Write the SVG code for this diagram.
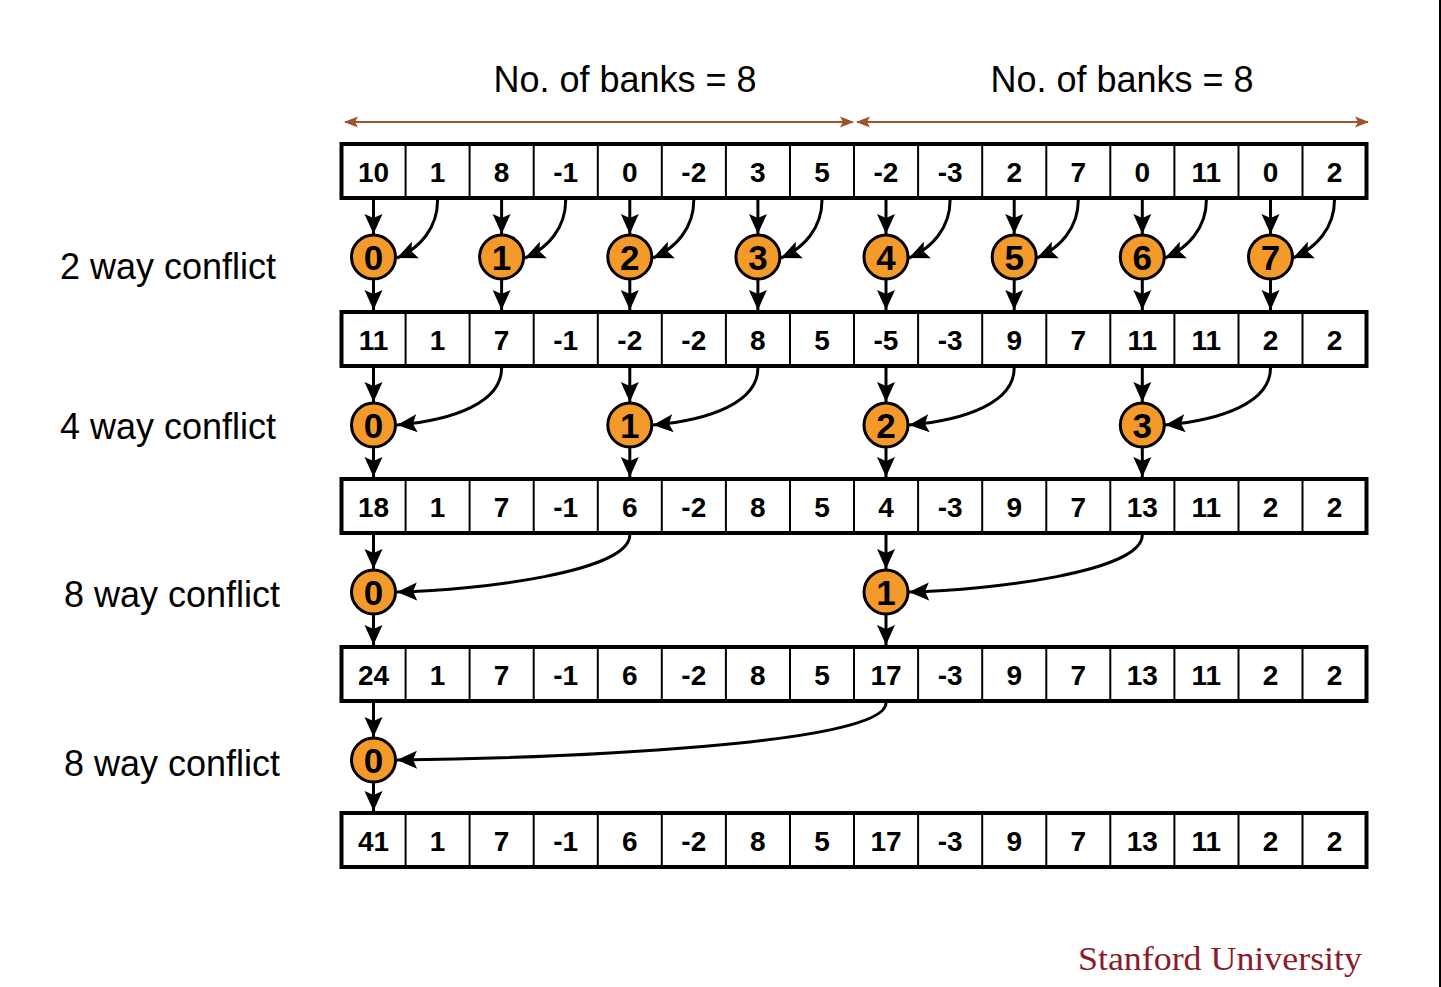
<svg xmlns="http://www.w3.org/2000/svg" width="1441" height="987" viewBox="0 0 1441 987">
<style>
.lbl{font-family:"Liberation Sans",Arial,sans-serif;font-size:36px;fill:#000}
.cell{font-family:"Liberation Sans",Arial,sans-serif;font-size:28px;font-weight:bold;fill:#000;text-anchor:middle}
.cnum{font-family:"Liberation Sans",Arial,sans-serif;font-size:35px;font-weight:bold;fill:#000;text-anchor:middle}
.outer{fill:#fff;stroke:#000;stroke-width:4}
.div{stroke:#000;stroke-width:2}
.node{fill:#F39A2B;stroke:#000;stroke-width:3}
.arr{fill:none;stroke:#000;stroke-width:3;marker-end:url(#ah)}
.brn{stroke:#A0502D;stroke-width:2.2;fill:none}
</style>
<defs>
<marker id="ah" markerUnits="userSpaceOnUse" markerWidth="22" markerHeight="22" viewBox="0 0 22 22" refX="20" refY="11" orient="auto">
<path d="M0,2 L20,11 L0,20 L4,11 Z" fill="#000"/>
</marker>
<marker id="bh" markerUnits="userSpaceOnUse" markerWidth="14" markerHeight="12" viewBox="0 0 14 12" refX="13" refY="6" orient="auto">
<path d="M0,0.5 L14,6 L0,11.5 L3,6 Z" fill="#A0502D"/>
</marker>
</defs>
<rect x="0" y="0" width="1441" height="987" fill="#fff"/>
<rect x="1439" y="0" width="2" height="987" fill="#000"/>

<g id="header">
<text class="lbl" x="625" y="92" text-anchor="middle">No. of banks = 8</text>
<text class="lbl" x="1122" y="92" text-anchor="middle">No. of banks = 8</text>
<line class="brn" x1="355" y1="122" x2="853" y2="122" marker-end="url(#bh)"/>
<line class="brn" x1="843" y1="122" x2="345" y2="122" marker-end="url(#bh)"/>
<line class="brn" x1="867" y1="122" x2="1368" y2="122" marker-end="url(#bh)"/>
<line class="brn" x1="1358" y1="122" x2="857" y2="122" marker-end="url(#bh)"/>
</g>

<g id="labels">
<text class="lbl" x="60" y="279">2 way conflict</text>
<text class="lbl" x="60" y="439">4 way conflict</text>
<text class="lbl" x="64" y="607">8 way conflict</text>
<text class="lbl" x="64" y="776">8 way conflict</text>
</g>

<g id="row1">
<rect class="outer" x="341.5" y="144" width="1025" height="54"/>
<path class="div" d="M405.6,144V198M469.6,144V198M533.7,144V198M597.8,144V198M661.8,144V198M725.9,144V198M790,144V198M854,144V198M918.1,144V198M982.2,144V198M1046.3,144V198M1110.3,144V198M1174.4,144V198M1238.5,144V198M1302.5,144V198"/>
<g transform="translate(0,182)">
<text class="cell" x="373.5">10</text><text class="cell" x="437.6">1</text><text class="cell" x="501.6">8</text><text class="cell" x="565.7">-1</text><text class="cell" x="629.8">0</text><text class="cell" x="693.8">-2</text><text class="cell" x="757.9">3</text><text class="cell" x="822">5</text><text class="cell" x="886">-2</text><text class="cell" x="950.1">-3</text><text class="cell" x="1014.2">2</text><text class="cell" x="1078.3">7</text><text class="cell" x="1142.3">0</text><text class="cell" x="1206.4">11</text><text class="cell" x="1270.5">0</text><text class="cell" x="1334.5">2</text>
</g>
</g>

<g id="row2">
<rect class="outer" x="341.5" y="312" width="1025" height="54"/>
<path class="div" d="M405.6,312V366M469.6,312V366M533.7,312V366M597.8,312V366M661.8,312V366M725.9,312V366M790,312V366M854,312V366M918.1,312V366M982.2,312V366M1046.3,312V366M1110.3,312V366M1174.4,312V366M1238.5,312V366M1302.5,312V366"/>
<g transform="translate(0,350)">
<text class="cell" x="373.5">11</text><text class="cell" x="437.6">1</text><text class="cell" x="501.6">7</text><text class="cell" x="565.7">-1</text><text class="cell" x="629.8">-2</text><text class="cell" x="693.8">-2</text><text class="cell" x="757.9">8</text><text class="cell" x="822">5</text><text class="cell" x="886">-5</text><text class="cell" x="950.1">-3</text><text class="cell" x="1014.2">9</text><text class="cell" x="1078.3">7</text><text class="cell" x="1142.3">11</text><text class="cell" x="1206.4">11</text><text class="cell" x="1270.5">2</text><text class="cell" x="1334.5">2</text>
</g>
</g>

<g id="row3">
<rect class="outer" x="341.5" y="479" width="1025" height="54"/>
<path class="div" d="M405.6,479V533M469.6,479V533M533.7,479V533M597.8,479V533M661.8,479V533M725.9,479V533M790,479V533M854,479V533M918.1,479V533M982.2,479V533M1046.3,479V533M1110.3,479V533M1174.4,479V533M1238.5,479V533M1302.5,479V533"/>
<g transform="translate(0,517)">
<text class="cell" x="373.5">18</text><text class="cell" x="437.6">1</text><text class="cell" x="501.6">7</text><text class="cell" x="565.7">-1</text><text class="cell" x="629.8">6</text><text class="cell" x="693.8">-2</text><text class="cell" x="757.9">8</text><text class="cell" x="822">5</text><text class="cell" x="886">4</text><text class="cell" x="950.1">-3</text><text class="cell" x="1014.2">9</text><text class="cell" x="1078.3">7</text><text class="cell" x="1142.3">13</text><text class="cell" x="1206.4">11</text><text class="cell" x="1270.5">2</text><text class="cell" x="1334.5">2</text>
</g>
</g>

<g id="row4">
<rect class="outer" x="341.5" y="647" width="1025" height="54"/>
<path class="div" d="M405.6,647V701M469.6,647V701M533.7,647V701M597.8,647V701M661.8,647V701M725.9,647V701M790,647V701M854,647V701M918.1,647V701M982.2,647V701M1046.3,647V701M1110.3,647V701M1174.4,647V701M1238.5,647V701M1302.5,647V701"/>
<g transform="translate(0,685)">
<text class="cell" x="373.5">24</text><text class="cell" x="437.6">1</text><text class="cell" x="501.6">7</text><text class="cell" x="565.7">-1</text><text class="cell" x="629.8">6</text><text class="cell" x="693.8">-2</text><text class="cell" x="757.9">8</text><text class="cell" x="822">5</text><text class="cell" x="886">17</text><text class="cell" x="950.1">-3</text><text class="cell" x="1014.2">9</text><text class="cell" x="1078.3">7</text><text class="cell" x="1142.3">13</text><text class="cell" x="1206.4">11</text><text class="cell" x="1270.5">2</text><text class="cell" x="1334.5">2</text>
</g>
</g>

<g id="row5">
<rect class="outer" x="341.5" y="813" width="1025" height="54"/>
<path class="div" d="M405.6,813V867M469.6,813V867M533.7,813V867M597.8,813V867M661.8,813V867M725.9,813V867M790,813V867M854,813V867M918.1,813V867M982.2,813V867M1046.3,813V867M1110.3,813V867M1174.4,813V867M1238.5,813V867M1302.5,813V867"/>
<g transform="translate(0,851)">
<text class="cell" x="373.5">41</text><text class="cell" x="437.6">1</text><text class="cell" x="501.6">7</text><text class="cell" x="565.7">-1</text><text class="cell" x="629.8">6</text><text class="cell" x="693.8">-2</text><text class="cell" x="757.9">8</text><text class="cell" x="822">5</text><text class="cell" x="886">17</text><text class="cell" x="950.1">-3</text><text class="cell" x="1014.2">9</text><text class="cell" x="1078.3">7</text><text class="cell" x="1142.3">13</text><text class="cell" x="1206.4">11</text><text class="cell" x="1270.5">2</text><text class="cell" x="1334.5">2</text>
</g>
</g>

<g id="connectors">
<path class="arr" d="M373.5,200V234"/><path class="arr" d="M373.5,280V310"/><path class="arr" d="M437.6,200C437.6,228 420,248 397,258"/>
<path class="arr" d="M501.6,200V234"/><path class="arr" d="M501.6,280V310"/><path class="arr" d="M565.7,200C565.7,228 548,248 525,258"/>
<path class="arr" d="M629.8,200V234"/><path class="arr" d="M629.8,280V310"/><path class="arr" d="M693.8,200C693.8,228 676,248 653,258"/>
<path class="arr" d="M757.9,200V234"/><path class="arr" d="M757.9,280V310"/><path class="arr" d="M822,200C822,228 804,248 781,258"/>
<path class="arr" d="M886,200V234"/><path class="arr" d="M886,280V310"/><path class="arr" d="M950.1,200C950.1,228 932,248 909,258"/>
<path class="arr" d="M1014.2,200V234"/><path class="arr" d="M1014.2,280V310"/><path class="arr" d="M1078.3,200C1078.3,228 1060,248 1037,258"/>
<path class="arr" d="M1142.3,200V234"/><path class="arr" d="M1142.3,280V310"/><path class="arr" d="M1206.4,200C1206.4,228 1188,248 1165,258"/>
<path class="arr" d="M1270.5,200V234"/><path class="arr" d="M1270.5,280V310"/><path class="arr" d="M1334.5,200C1334.5,228 1316,248 1293,258"/>
<path class="arr" d="M373.5,368V402"/><path class="arr" d="M373.5,448V477"/><path class="arr" d="M501.6,368C501.6,402 455,420 397,425"/>
<path class="arr" d="M629.8,368V402"/><path class="arr" d="M629.8,448V477"/><path class="arr" d="M757.9,368C757.9,402 711,420 653,425"/>
<path class="arr" d="M886,368V402"/><path class="arr" d="M886,448V477"/><path class="arr" d="M1014.2,368C1014.2,402 967,420 909,425"/>
<path class="arr" d="M1142.3,368V402"/><path class="arr" d="M1142.3,448V477"/><path class="arr" d="M1270.5,368C1270.5,402 1223,420 1165,425"/>
<path class="arr" d="M373.5,535V569"/><path class="arr" d="M373.5,615V645"/><path class="arr" d="M629.8,535C629.8,572 480,590 397,592"/>
<path class="arr" d="M886,535V569"/><path class="arr" d="M886,615V645"/><path class="arr" d="M1142.3,535C1142.3,572 992,590 909,592"/>
<path class="arr" d="M373.5,703V737"/><path class="arr" d="M373.5,783V811"/><path class="arr" d="M886,703C886,745 560,758 397,760"/>
</g>

<g id="n1-0"><circle class="node" cx="373.5" cy="257" r="22"/><text class="cnum" x="373.5" y="270">0</text></g>
<g id="n1-1"><circle class="node" cx="501.6" cy="257" r="22"/><text class="cnum" x="501.6" y="270">1</text></g>
<g id="n1-2"><circle class="node" cx="629.8" cy="257" r="22"/><text class="cnum" x="629.8" y="270">2</text></g>
<g id="n1-3"><circle class="node" cx="757.9" cy="257" r="22"/><text class="cnum" x="757.9" y="270">3</text></g>
<g id="n1-4"><circle class="node" cx="886" cy="257" r="22"/><text class="cnum" x="886" y="270">4</text></g>
<g id="n1-5"><circle class="node" cx="1014.2" cy="257" r="22"/><text class="cnum" x="1014.2" y="270">5</text></g>
<g id="n1-6"><circle class="node" cx="1142.3" cy="257" r="22"/><text class="cnum" x="1142.3" y="270">6</text></g>
<g id="n1-7"><circle class="node" cx="1270.5" cy="257" r="22"/><text class="cnum" x="1270.5" y="270">7</text></g>

<g id="n2-0"><circle class="node" cx="373.5" cy="425" r="22"/><text class="cnum" x="373.5" y="438">0</text></g>
<g id="n2-1"><circle class="node" cx="629.8" cy="425" r="22"/><text class="cnum" x="629.8" y="438">1</text></g>
<g id="n2-2"><circle class="node" cx="886" cy="425" r="22"/><text class="cnum" x="886" y="438">2</text></g>
<g id="n2-3"><circle class="node" cx="1142.3" cy="425" r="22"/><text class="cnum" x="1142.3" y="438">3</text></g>

<g id="n3-0"><circle class="node" cx="373.5" cy="592" r="22"/><text class="cnum" x="373.5" y="605">0</text></g>
<g id="n3-1"><circle class="node" cx="886" cy="592" r="22"/><text class="cnum" x="886" y="605">1</text></g>

<g id="n4-0"><circle class="node" cx="373.5" cy="760" r="22"/><text class="cnum" x="373.5" y="773">0</text></g>

<g id="logo">
<text x="1078" y="970" textLength="284" lengthAdjust="spacingAndGlyphs" font-family="'Liberation Serif','Times New Roman',serif" font-size="34" fill="#8C1A2A">Stanford University</text>
</g>
</svg>
